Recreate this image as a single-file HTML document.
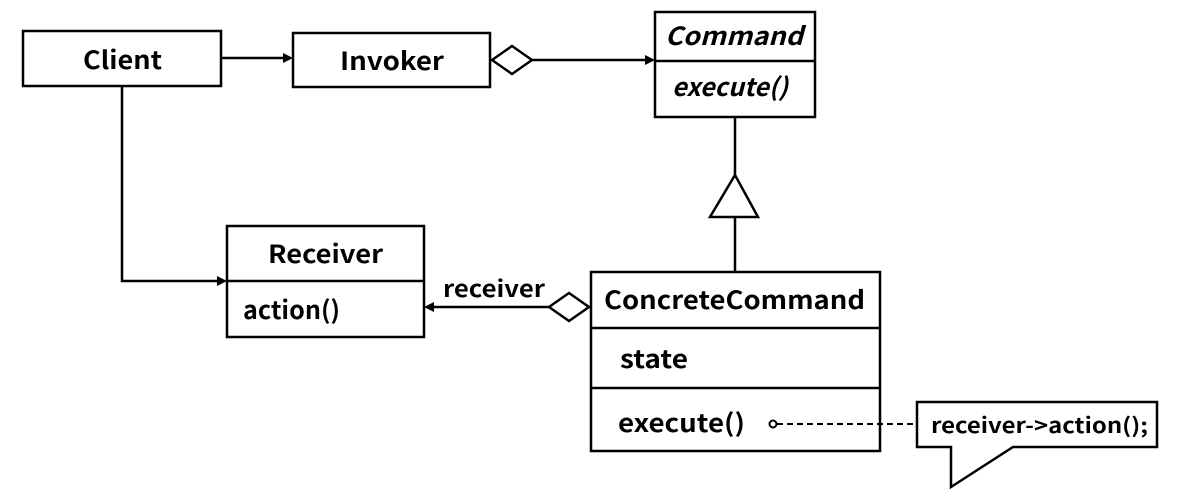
<!DOCTYPE html>
<html><head><meta charset="utf-8"><style>
html,body{margin:0;padding:0;background:#fff;}
svg{display:block;}
text{font-family:"Noto Sans CJK JP","Liberation Sans",sans-serif;font-weight:bold;fill:#000;}
</style></head><body>
<svg width="1186" height="503" viewBox="0 0 1186 503" xmlns="http://www.w3.org/2000/svg">
<g fill="none" stroke="#000" stroke-width="2.5">
<rect x="23" y="31" width="198" height="55" fill="#fff"/>
<rect x="293" y="33" width="197" height="54" fill="#fff"/>
<rect x="655" y="12" width="160" height="105" fill="#fff"/>
<line x1="655" y1="61" x2="815" y2="61"/>
<rect x="227" y="226" width="197" height="111" fill="#fff"/>
<line x1="227" y1="281" x2="424" y2="281"/>
<rect x="591" y="272" width="289" height="179" fill="#fff"/>
<line x1="591" y1="328" x2="880" y2="328"/>
<line x1="591" y1="388" x2="880" y2="388"/>
<!-- connectors -->
<line x1="221" y1="58" x2="285" y2="58"/>
<line x1="532" y1="60" x2="647" y2="60"/>
<polygon points="492,60 512,46 532,60 512,74" fill="#fff"/>
<polyline points="122,86 122,281 219,281"/>
<line x1="735" y1="117" x2="735" y2="175"/>
<polygon points="735,175 710,217 758,217" fill="#fff"/>
<line x1="735" y1="217" x2="735" y2="272"/>
<line x1="549" y1="307" x2="432" y2="307"/>
<polygon points="549,307 569,293 589,307 569,321" fill="#fff"/>
<line x1="777" y1="424" x2="917" y2="424" stroke-dasharray="6,4" stroke-width="2"/>
<circle cx="773" cy="424" r="3.5" fill="#fff" stroke-width="2"/>
<path d="M917,402 L1157,402 L1157,447 L1013,447 L951,487 L951,447 L917,447 Z" fill="#fff"/>
</g>
<g fill="#000">
<polygon points="293,58 283,53 283,63"/>
<polygon points="655,60 645,55 645,65"/>
<polygon points="227,281 217,276 217,286"/>
<polygon points="424,307 434,302 434,312"/>
</g>
<text x="83" y="69" font-size="25" textLength="79" lengthAdjust="spacingAndGlyphs">Client</text>
<text x="340" y="70" font-size="25" textLength="104" lengthAdjust="spacingAndGlyphs">Invoker</text>
<text x="665" y="45" font-size="25" font-style="italic" textLength="138" lengthAdjust="spacingAndGlyphs">Command</text>
<text x="672" y="96" font-size="25" font-style="italic" textLength="116" lengthAdjust="spacingAndGlyphs">execute()</text>
<text x="268" y="263" font-size="25" textLength="115" lengthAdjust="spacingAndGlyphs">Receiver</text>
<text x="243" y="319" font-size="25" textLength="97" lengthAdjust="spacingAndGlyphs">action()</text>
<text x="443" y="297" font-size="23" textLength="102" lengthAdjust="spacingAndGlyphs">receiver</text>
<text x="604" y="309" font-size="25" textLength="261" lengthAdjust="spacingAndGlyphs">ConcreteCommand</text>
<text x="620" y="368" font-size="25" textLength="68" lengthAdjust="spacingAndGlyphs">state</text>
<text x="618" y="432" font-size="25" textLength="127" lengthAdjust="spacingAndGlyphs">execute()</text>
<text x="931" y="433" font-size="21" textLength="217" lengthAdjust="spacingAndGlyphs">receiver-&gt;action();</text>
</svg>
</body></html>
